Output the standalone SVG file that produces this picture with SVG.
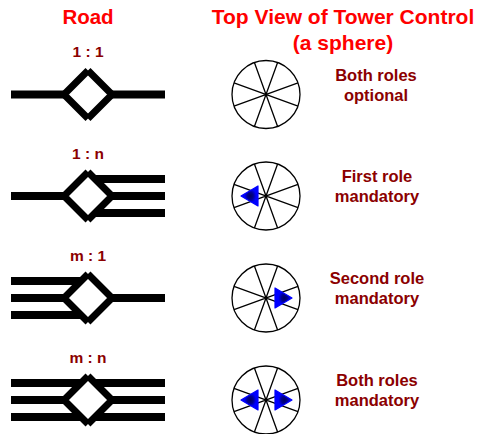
<svg xmlns="http://www.w3.org/2000/svg" width="482" height="434" viewBox="0 0 482 434">
<style>
.title{font-family:"Liberation Sans",Arial,sans-serif;font-weight:bold;font-size:20.5px;fill:#ff0000;text-anchor:middle}
.big{font-size:21px}
.ratio{font-family:"Liberation Sans",Arial,sans-serif;font-weight:bold;font-size:15.5px;fill:#8b0000;text-anchor:middle}
.role{font-family:"Liberation Sans",Arial,sans-serif;font-weight:bold;font-size:16.5px;fill:#8b0000;text-anchor:middle}
.road{stroke:#000;stroke-width:8;fill:none}
.dfill{fill:#fff;stroke:none}
.dline{stroke:#000;stroke-width:7;fill:none;stroke-linecap:butt;stroke-linejoin:miter}
.sph{stroke:#000;stroke-width:1.3;fill:#fff}
.arrow{fill:url(#ag);stroke:#0000ff;stroke-width:1.2;stroke-linejoin:round}
</style>
<defs>
<radialGradient id="ag" cx="0.55" cy="0.5" r="0.5">
<stop offset="0" stop-color="#000060"/>
<stop offset="0.35" stop-color="#000090"/>
<stop offset="0.7" stop-color="#0000ff"/>
<stop offset="1" stop-color="#0000ff"/>
</radialGradient>
<g id="diamond">
<path class="dfill" d="M0,-24L-24,0L0,24L24,0Z"/>
<path class="dline" d="M0,-24L-24,0L0,24"/>
<path class="dline" d="M0,-24L24,0L0,24"/>
</g>
<g id="sphere">
<circle class="sph" r="34"/>
<path class="sph" d="M-11.6,-32L11.6,32M11.6,-32L-11.6,32M-32,-11.6L32,11.6M-32,11.6L32,-11.6"/>
</g>
<path id="arrowL" class="arrow" d="M-25,0L-8,-10L-8,10Z"/>
<path id="arrowR" class="arrow" d="M26,0L9,-10L9,10Z"/>
</defs>
<rect width="482" height="434" fill="#fff"/>

<g id="title-road"><text class="title" x="88" y="24">Road</text></g>
<g id="title-tower"><text class="title big" x="343" y="24">Top View of Tower Control</text><text class="title big" x="343" y="50">(a sphere)</text></g>

<!-- Row 1 -->
<g id="road-1-1" transform="translate(88,94.5)">
<text class="ratio" x="0" y="-37.5">1 : 1</text>
<path class="road" d="M-77,0H77"/>
<use href="#diamond"/>
</g>
<g id="sphere-1" transform="translate(266,94.5)"><use href="#sphere"/></g>
<g id="label-1"><text class="role" x="376" y="80.5">Both roles</text><text class="role" x="376" y="100.5">optional</text></g>

<!-- Row 2 -->
<g id="road-1-n" transform="translate(88,196)">
<text class="ratio" x="0" y="-37.5">1 : n</text>
<path class="road" d="M-77,0H0M0,-17H77M0,0H77M0,17H77"/>
<use href="#diamond"/>
</g>
<g id="sphere-2" transform="translate(266,196)"><use href="#sphere"/><use href="#arrowL"/></g>
<g id="label-2"><text class="role" x="377" y="182">First role</text><text class="role" x="377" y="202">mandatory</text></g>

<!-- Row 3 -->
<g id="road-m-1" transform="translate(88,298)">
<text class="ratio" x="0" y="-37.5">m : 1</text>
<path class="road" d="M-77,-17H0M-77,0H0M-77,17H0M0,0H77"/>
<use href="#diamond"/>
</g>
<g id="sphere-3" transform="translate(266,298)"><use href="#sphere"/><use href="#arrowR"/></g>
<g id="label-3"><text class="role" x="377" y="284">Second role</text><text class="role" x="377" y="304">mandatory</text></g>

<!-- Row 4 -->
<g id="road-m-n" transform="translate(88,400)">
<text class="ratio" x="0" y="-37.5">m : n</text>
<path class="road" d="M-77,-17H77M-77,0H77M-77,17H77"/>
<use href="#diamond"/>
</g>
<g id="sphere-4" transform="translate(266,400)"><use href="#sphere"/><use href="#arrowL"/><use href="#arrowR"/></g>
<g id="label-4"><text class="role" x="377" y="386">Both roles</text><text class="role" x="377" y="406">mandatory</text></g>
</svg>
